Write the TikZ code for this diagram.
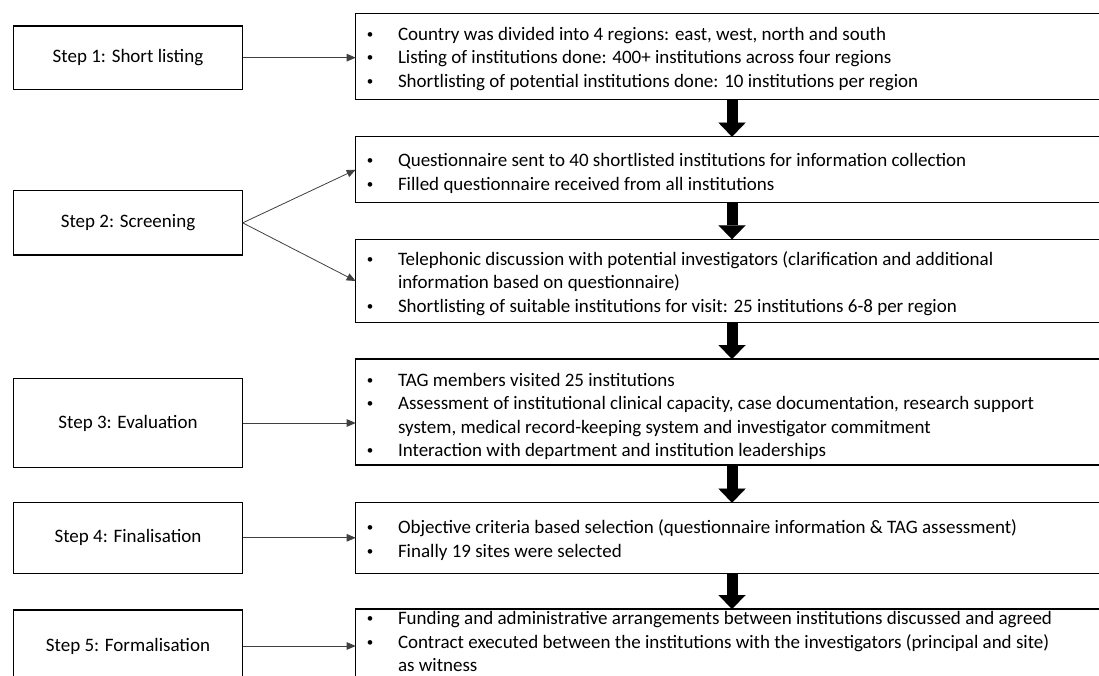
\documentclass[tikz,border=0pt]{standalone}
\usepackage{fontspec}
\setmainfont{Carlito}
\usetikzlibrary{arrows.meta,calc}
\tikzset{
  stepbox/.style={draw=black, line width=1.2pt, minimum width=229.4pt, inner sep=0pt, outer sep=0pt, font=\fontsize{19}{23.5}\selectfont},
  infobox/.style={draw=black, line width=1.2pt, minimum width=756pt, inner sep=0pt, outer sep=0pt},
  infotext/.style={anchor=base west, inner sep=0pt, outer sep=0pt, font=\fontsize{19}{23.5}\selectfont},
  link/.style={draw=black!75, line width=0.8pt, -{Triangle[length=9pt,width=7.5pt]}},
  flow/.style={draw=black, line width=11pt, -{Triangle[length=14pt,width=27pt,line width=0.01pt]}},
}
\newcommand\bl{\makebox[28pt][l]{\makebox[0pt]{\raisebox{1.6pt}{\fontsize{13}{13}\selectfont\textbullet}}}}
\begin{document}
\begin{tikzpicture}[x=1pt,y=-1pt]
  \useasboundingbox (0,0) rectangle (1099,675);
  \clip (0,0) rectangle (1099,675);
  \fill[white] (0,0) rectangle (1099,675);

  % left step boxes
  \node[stepbox, minimum height=63.3pt] (l1) at (128,57.65) {Step 1: Short listing};
  \node[stepbox, minimum height=64.3pt] (l2) at (128,222.85) {Step 2: Screening};
  \node[stepbox, minimum height=89.4pt] (l3) at (128,423) {Step 3: Evaluation};
  \node[stepbox, minimum height=71pt] (l4) at (128,537.8) {Step 4: Finalisation};
  \node[stepbox, minimum height=72pt] (l5) at (128,646) {Step 5: Formalisation};

  % right info boxes
  \node[infobox, minimum height=86pt] (r1) at (733.7,56.3) {};
  \node[infobox, minimum height=66pt] (r2) at (733.7,169.7) {};
  \node[infobox, minimum height=83.4pt] (r3) at (733.7,281) {};
  \node[infobox, minimum height=106pt] (r4) at (733.7,412) {};
  \node[infobox, minimum height=70.6pt] (r5) at (733.7,538) {};
  \node[infobox, minimum height=81pt] (r6) at (733.7,649.5) {};

  % texts
  \node[infotext] (t1) at (370,40) {\begin{tabular}[t]{@{}l@{}l@{}}
    \bl & Country was divided into 4 regions: east, west, north and south\\
    \bl & Listing of institutions done: 400+ institutions across four regions\\
    \bl & Shortlisting of potential institutions done: 10 institutions per region
  \end{tabular}};
  \node[infotext] (t2) at (370,166.5) {\begin{tabular}[t]{@{}l@{}l@{}}
    \bl & Questionnaire sent to 40 shortlisted institutions for information collection\\
    \bl & Filled questionnaire received from all institutions
  \end{tabular}};
  \node[infotext] (t3) at (370,265.3) {\begin{tabular}[t]{@{}l@{}l@{}}
    \bl & Telephonic discussion with potential investigators (clarification and additional\\
        & information based on questionnaire)\\
    \bl & Shortlisting of suitable institutions for visit: 25 institutions 6-8 per region
  \end{tabular}};
  \node[infotext] (t4) at (370,386) {\begin{tabular}[t]{@{}l@{}l@{}}
    \bl & TAG members visited 25 institutions\\
    \bl & Assessment of institutional clinical capacity, case documentation, research support\\
        & system, medical record-keeping system and investigator commitment\\
    \bl & Interaction with department and institution leaderships
  \end{tabular}};
  \node[infotext] (t5) at (370,533.5) {\begin{tabular}[t]{@{}l@{}l@{}}
    \bl & Objective criteria based selection (questionnaire information \& TAG assessment)\\
    \bl & Finally 19 sites were selected
  \end{tabular}};
  \node[infotext] (t6) at (370,624.5) {\begin{tabular}[t]{@{}l@{}l@{}}
    \bl & Funding and administrative arrangements between institutions discussed and agreed\\
    \bl & Contract executed between the institutions with the investigators (principal and site)\\
        & as witness
  \end{tabular}};

  % thin connectors
  \draw[link] (l1.east) -- (l1.east -| r1.west);
  \draw[link] (l2.east) -- (r2.west);
  \draw[link] (l2.east) -- (r3.west);
  \draw[link] (l3.east) -- (l3.east -| r4.west);
  \draw[link] (l4.east) -- (l4.east -| r5.west);
  \draw[link] (l5.east) -- (l5.east -| r6.west);

  % block arrows
  \coordinate (fx) at (732,0);
  \draw[flow] (fx |- r1.south) -- (fx |- r2.north);
  \draw[flow] (fx |- r2.south) -- (fx |- r3.north);
  \draw[flow] (fx |- r3.south) -- (fx |- r4.north);
  \draw[flow] (fx |- r4.south) -- (fx |- r5.north);
  \draw[flow] (fx |- r5.south) -- (fx |- r6.north);
\end{tikzpicture}
\end{document}
